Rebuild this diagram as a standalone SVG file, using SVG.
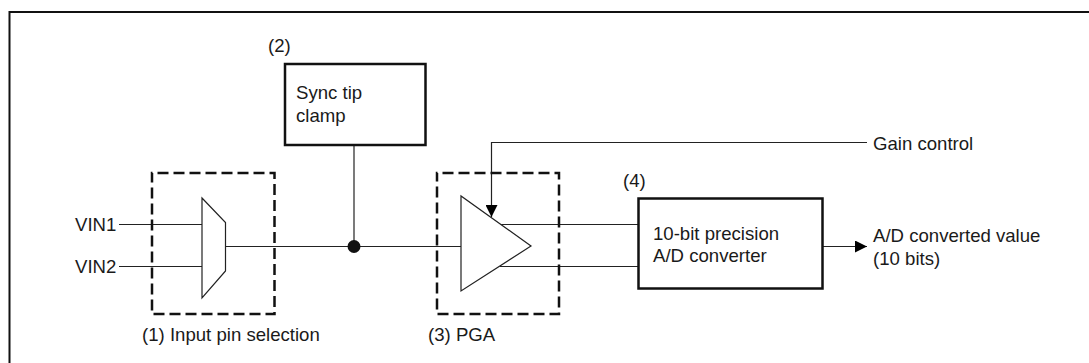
<svg xmlns="http://www.w3.org/2000/svg" width="1089" height="363" viewBox="0 0 1089 363">
<style>
text{font-family:"Liberation Sans",Arial,sans-serif;font-size:18.600px;fill:#1a1a1a}
.box{fill:#fff;stroke:#111;stroke-width:2.500}
.dash{fill:none;stroke:#111;stroke-width:2.500;stroke-dasharray:11 5;stroke-dashoffset:10.500}
.sym{fill:#fff;stroke:#222;stroke-width:1.200}
#connectors line,#connectors path{fill:none;stroke:#222;stroke-width:1.200}
</style>
<defs>
<marker id="arrow" markerUnits="userSpaceOnUse" markerWidth="12" markerHeight="12" refX="12" refY="6" orient="auto"><path d="M0 0L12 6L0 12Z" fill="#000"/></marker>
</defs>
<path id="frame" d="M9.500 363V12H1089" fill="none" stroke="#111" stroke-width="2"/>
<g id="connectors">
<line x1="119" y1="224.500" x2="202" y2="224.500"/>
<line x1="119" y1="266.500" x2="202" y2="266.500"/>
<line x1="225" y1="246.500" x2="461" y2="246.500"/>
<line x1="354" y1="145" x2="354" y2="246"/>
<path d="M867 142.500H491.500V217" marker-end="url(#arrow)"/>
<line x1="500" y1="224.500" x2="638" y2="224.500"/>
<line x1="500" y1="266.500" x2="638" y2="266.500"/>
<line x1="823" y1="246.500" x2="867" y2="246.500" marker-end="url(#arrow)"/>
</g>
<g id="input-select">
<rect class="dash" x="152" y="173" width="122.500" height="141"/>
<path class="sym" d="M202 198L225.500 222.500V271L202 298Z"/>
<text x="75" y="231">VIN1</text>
<text x="75" y="273">VIN2</text>
<text x="142" y="341">(1) Input pin selection</text>
</g>
<g id="junction"><circle cx="354" cy="246.500" r="6.500" fill="#111"/></g>
<g id="clamp">
<rect class="box" x="285" y="64" width="140.500" height="81"/>
<text x="296" y="99">Sync tip</text>
<text x="296" y="122">clamp</text>
<text x="268" y="52">(2)</text>
</g>
<g id="pga">
<rect class="dash" x="437" y="173" width="122" height="141"/>
<path class="sym" d="M461 196V291L531 246Z"/>
<text x="428" y="341">(3) PGA</text>
</g>
<g id="adc">
<rect class="box" x="638.500" y="198.500" width="184" height="90"/>
<text x="653" y="240">10-bit precision</text>
<text x="653" y="262">A/D converter</text>
<text x="623" y="187">(4)</text>
</g>
<g id="labels">
<text x="873" y="150">Gain control</text>
<text x="873" y="242">A/D converted value</text>
<text x="873" y="265">(10 bits)</text>
</g>
</svg>
